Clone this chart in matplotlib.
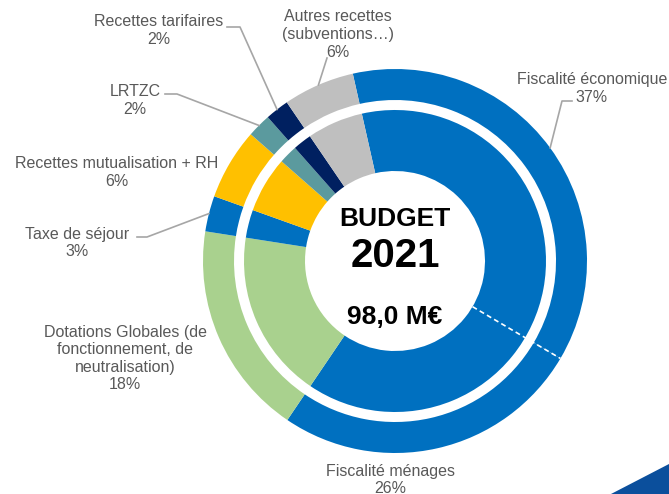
import numpy as np
import matplotlib
matplotlib.use("Agg")
import matplotlib.pyplot as plt
from matplotlib.patches import Polygon

plt.rcParams["font.family"] = ["Liberation Sans", "DejaVu Sans"]

# outer ring (order clockwise from the top)
outer_labels = ["Fiscalité économique", "Fiscalité ménages",
                "Dotations Globales (de\nfonctionnement, de\nneutralisation)",
                "Taxe de séjour", "Recettes mutualisation + RH", "LRTZC",
                "Recettes tarifaires", "Autres recettes\n(subventions…)"]
outer_values = [37, 26, 18, 3, 6, 2, 2, 6]
outer_colors = ["#0070C0", "#0070C0", "#A9D18E", "#0070C0", "#FFC000",
                "#5B9A9E", "#002060", "#BFBFBF"]

# inner ring: both fiscal parts merged
inner_values = [63, 18, 3, 6, 2, 2, 6]
inner_colors = ["#0070C0", "#A9D18E", "#0070C0", "#FFC000",
                "#5B9A9E", "#002060", "#BFBFBF"]

W, H = 669, 494
cx, cy = 395, H - 261
start = 102.7

fig = plt.figure(figsize=(W / 100, H / 100), dpi=100)
ax = fig.add_axes([0, 0, 1, 1])

ax.pie(outer_values, colors=outer_colors, radius=192, center=(cx, cy),
       startangle=start, counterclock=False,
       wedgeprops=dict(width=31, edgecolor="none"))
ax.pie(inner_values, colors=inner_colors, radius=151, center=(cx, cy),
       startangle=start, counterclock=False,
       wedgeprops=dict(width=61, edgecolor="none"))

# dashed separator between the two fiscal parts
a = np.radians(start - outer_values[0] / sum(outer_values) * 360)
ax.plot([cx + 90 * np.cos(a), cx + 192 * np.cos(a)],
        [cy + 90 * np.sin(a), cy + 192 * np.sin(a)],
        color="white", lw=1.2, ls=(0, (3, 2)))

ax.set_xlim(0, W)
ax.set_ylim(0, H)
ax.set_aspect("auto")
ax.axis("off")

# centre text
ax.text(cx, H - 219, "BUDGET", ha="center", va="center", fontsize=19, fontweight="bold")
ax.text(cx, H - 256, "2021", ha="center", va="center", fontsize=29, fontweight="bold")
ax.text(cx, H - 317, "98,0 M€", ha="center", va="center", fontsize=19, fontweight="bold")

# labels: (text x, centre y of first line) in image pixels
label_pos = [(592, 78), (390, 469), (125, 330), (77, 232), (117, 162),
             (135, 90), (159, 20), (338, 15)]
gray = "#595959"
for lab, val, (tx, ty) in zip(outer_labels, outer_values, label_pos):
    ax.text(tx, H - ty + 5.5, f"{lab}\n{val}%", ha="center", va="top", fontsize=11.5,
            color=gray, linespacing=1.22)

# leader lines: label-side points, slice side at the slice middle
cum = np.cumsum([0] + outer_values[:-1])
leaders = {0: [(572, 101), (562, 101)], 3: [(137, 237), (147, 237)],
           5: [(165, 94), (177, 94)], 6: [(227, 27), (240, 27)],
           7: [(327, 58)]}
for i, pts in leaders.items():
    mid = np.radians(start - (cum[i] + outer_values[i] / 2) / 100 * 360)
    end = (cx + 192 * np.cos(mid), cy + 192 * np.sin(mid))
    xs = [p[0] for p in pts] + [end[0]]
    ys = [H - p[1] for p in pts] + [end[1]]
    ax.plot(xs, ys, color="#A6A6A6", lw=1.2)

# slide decoration in bottom right corner
ax.add_patch(Polygon([(611, 0), (669, 30), (669, 0)], closed=True,
                     facecolor="#0B4F9C", edgecolor="none"))

fig.savefig("out.png", dpi=100)
